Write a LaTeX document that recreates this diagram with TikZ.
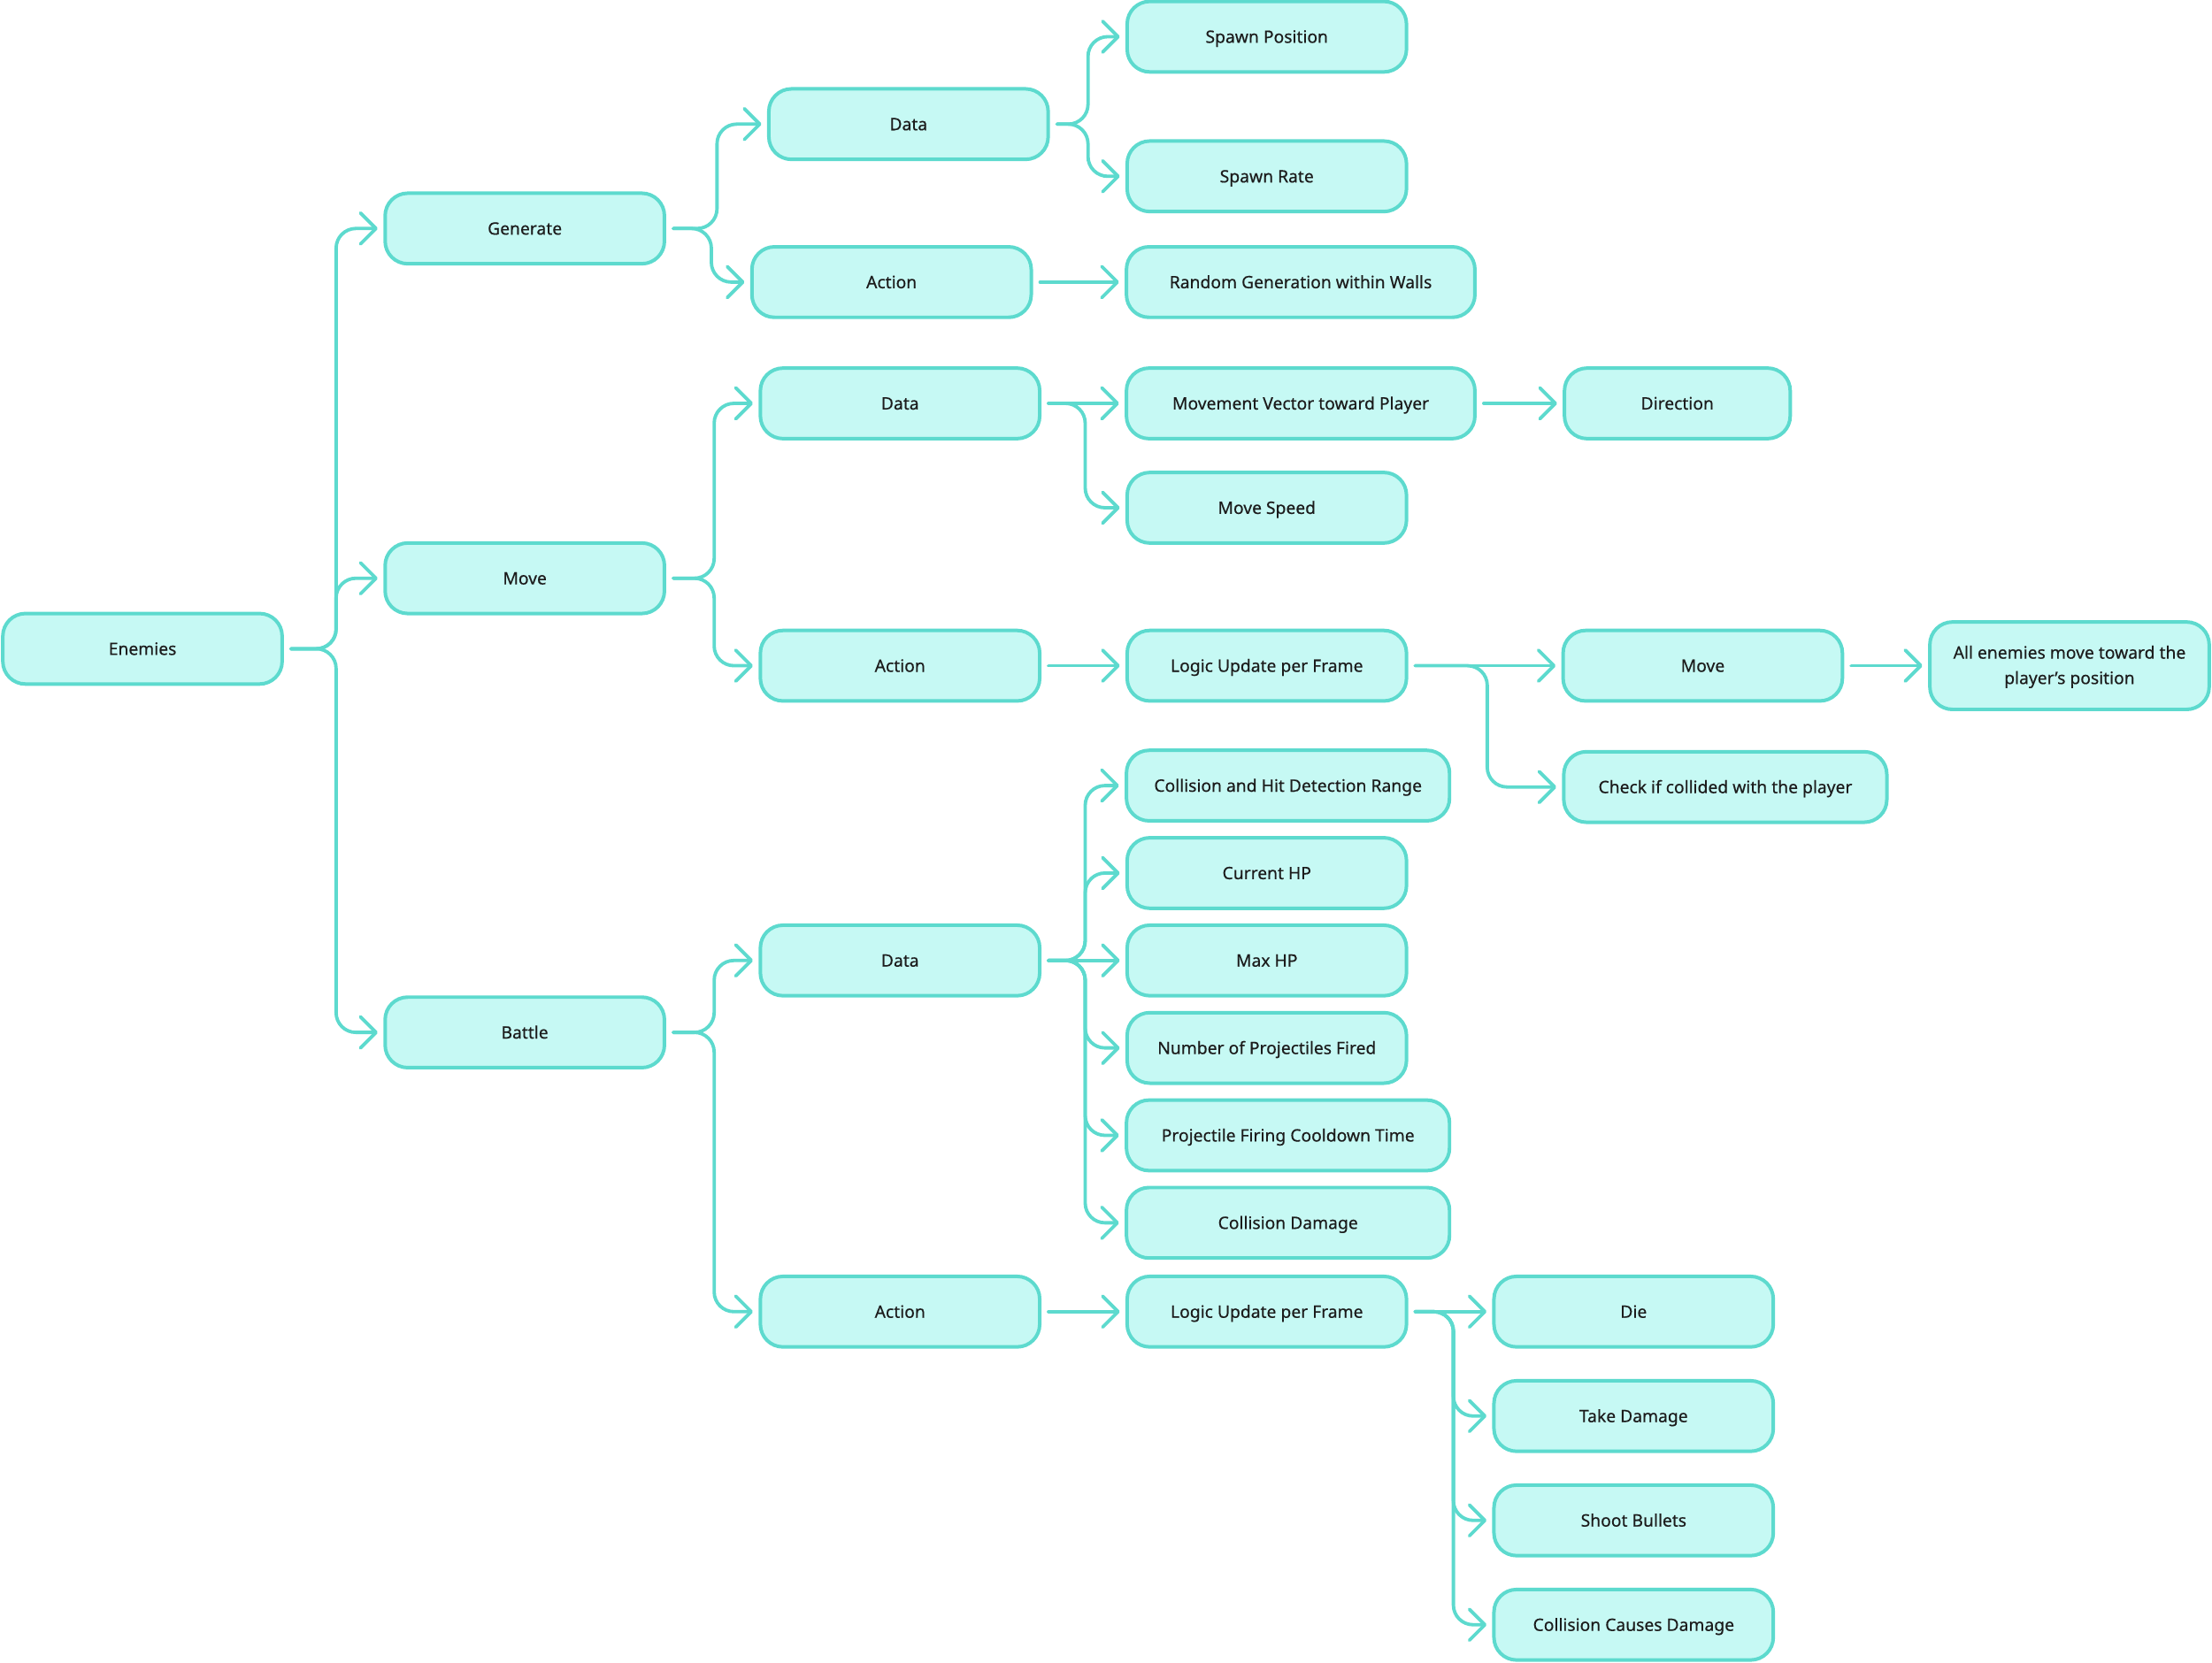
\documentclass[tikz,border=0pt]{standalone}
\usepackage{fontspec}
\setmainfont{Noto Sans}[FakeBold=0.35]
\usetikzlibrary{arrows.meta}
\definecolor{edgec}{HTML}{5DDACE}
\definecolor{fillc}{HTML}{C6F9F4}
\definecolor{txtc}{HTML}{1C1C1C}
\begin{document}
\begin{tikzpicture}[x=1pt,y=-1pt,
  box/.style={draw=edgec, fill=fillc, line width=2.5pt, rounded corners=16pt,
    minimum width=198pt, minimum height=50pt, inner sep=0pt, align=center,
    text=txtc, font=\fontsize{12.1}{18}\selectfont, text height=8.7pt, text depth=0pt},
  conn/.style={draw=edgec, line width=2.4pt, rounded corners=14pt, line cap=round,
    -{Straight Barb[length=11pt,width=22pt,round]}},
]
\useasboundingbox (0,0) rectangle (1568,1179);
% level 0
\node[box] (enemies) at (101,460) {Enemies};
% level 1
\node[box] (gen) at (372,162) {Generate};
\node[box] (move) at (372,410) {Move};
\node[box] (battle) at (372,732) {Battle};
% generate
\node[box] (gdata) at (644,88) {Data};
\node[box] (gaction) at (632,200) {Action};
\node[box] (spos) at (898,26) {Spawn Position};
\node[box] (srate) at (898,125) {Spawn Rate};
\node[box, minimum width=247pt] (rgen) at (922,200) {Random Generation within Walls};
% move
\node[box] (mdata) at (638,286) {Data};
\node[box, minimum width=247pt] (mvec) at (922,286) {Movement Vector toward Player};
\node[box, minimum width=160pt] (dir) at (1189,286) {Direction};
\node[box] (mspeed) at (898,360) {Move Speed};
\node[box] (maction) at (638,472) {Action};
\node[box] (mlogic) at (898,472) {Logic Update per Frame};
\node[box] (mmove) at (1207,472) {Move};
\node[box, minimum height=62pt, text height=0pt, text depth=0pt] (allen) at (1467,472)
  {\raisebox{-3.4pt}[0pt][0pt]{\begin{tabular}{@{}c@{}}All enemies move toward the\\player’s position\end{tabular}}};
\node[box, minimum width=229pt] (check) at (1223,558) {Check if collided with the player};
% battle
\node[box] (bdata) at (638,681) {Data};
\node[box, minimum width=229pt] (coll) at (913,557) {Collision and Hit Detection Range};
\node[box] (chp) at (898,619) {Current HP};
\node[box] (mhp) at (898,681) {Max HP};
\node[box] (nproj) at (898,743) {Number of Projectiles Fired};
\node[box, minimum width=229pt] (pcool) at (913,805) {Projectile Firing Cooldown Time};
\node[box, minimum width=229pt] (cdmg) at (913,867) {Collision Damage};
\node[box] (baction) at (638,930) {Action};
\node[box] (blogic) at (898,930) {Logic Update per Frame};
\node[box] (die) at (1158,930) {Die};
\node[box] (take) at (1158,1004) {Take Damage};
\node[box] (shoot) at (1158,1078) {Shoot Bullets};
\node[box] (ccd) at (1158,1152) {Collision Causes Damage};

% connectors: branch (src, dx, tgt)
\foreach \s/\d/\t in {enemies/32/gen, enemies/32/move, enemies/32/battle,
  gen/31/gdata, gen/27/gaction,
  gdata/22/spos, gdata/22/srate,
  move/29/mdata, move/29/maction,
  mdata/26/mspeed,
  mlogic/51/check,
  battle/29/bdata, battle/29/baction,
  bdata/26/coll, bdata/26/chp, bdata/26/nproj, bdata/26/pcool, bdata/26/cdmg,
  blogic/27/take, blogic/27/shoot, blogic/27/ccd}
  \draw[conn] ([xshift=5pt]\s.east) -- ++(\d,0) |- ([xshift=-4pt]\t.west);
% straight connectors
\foreach \s/\t in {gaction/rgen, mdata/mvec, mvec/dir, maction/mlogic,
  mlogic/mmove, mmove/allen, bdata/mhp, baction/blogic, blogic/die}
  \draw[conn] ([xshift=5pt]\s.east) -- ([xshift=-4pt]\t.west);
\end{tikzpicture}
\end{document}
